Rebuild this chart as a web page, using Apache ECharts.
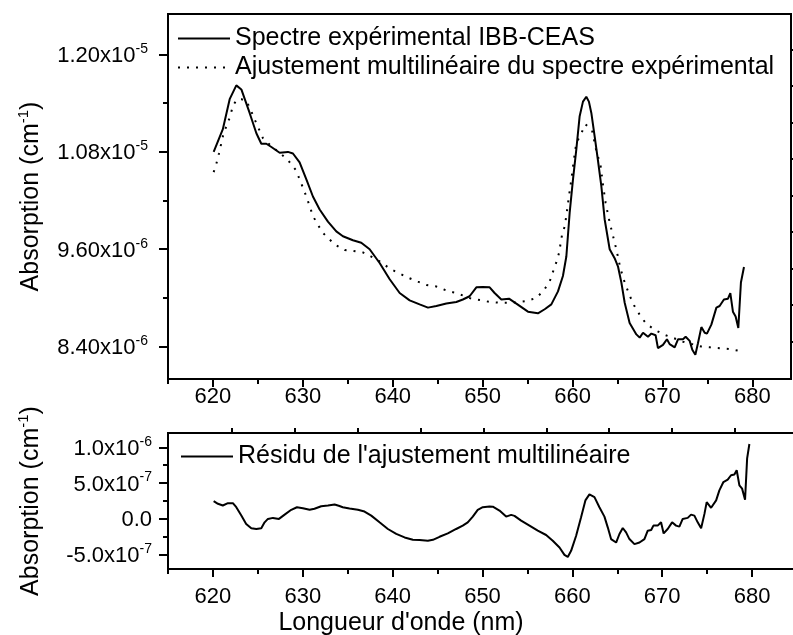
<!DOCTYPE html>
<html>
<head>
<meta charset="utf-8">
<script src="https://cdn.jsdelivr.net/npm/echarts@6/dist/echarts.min.js"></script>
<style>
html, body { margin: 0; padding: 0; background: #fff; }
#chart { width: 793px; height: 635px; }
</style>
</head>
<body>
<div id="chart"></div>
<script>
// Spectre expérimental (nm, absorption en 1e-6 cm-1)
const expWl = [620.08, 621.1, 621.86, 622.6, 623.16, 624.08, 624.83, 625.38, 625.94, 626.5, 627.42, 628.34, 628.9, 629.64,
  630.39, 631.12, 631.87, 632.79, 633.72, 634.46, 635.57, 636.5, 637.43, 638.54, 639.66, 640.77, 641.88, 642.99, 643.92,
  644.85, 645.96, 647.07, 647.8, 648.55, 649.3, 650.0, 650.78, 651.33, 652.08, 652.93, 653.75, 655.04, 656.15, 656.9,
  657.64, 658.38, 658.93, 659.31, 659.68, 660.05, 660.42, 660.79, 661.16, 661.53, 661.82, 662.09, 662.46, 662.82, 663.2,
  663.57, 664.13, 664.68, 665.05, 665.43, 665.8, 666.35, 667.1, 667.47, 667.84, 668.39, 668.77, 669.24, 669.5, 670.06,
  670.5, 670.8, 671.36, 671.73, 672.28, 672.58, 673.03, 673.32, 673.66, 673.95, 674.33, 674.7, 674.95, 675.44, 676.0,
  676.36, 676.84, 677.29, 677.55, 677.84, 678.14, 678.44, 678.73, 679.07];
const expAbs = [10.80, 11.08, 11.45, 11.62, 11.57, 11.28, 11.03, 10.90, 10.90, 10.86, 10.79, 10.80, 10.78, 10.67,
  10.46, 10.25, 10.09, 9.94, 9.82, 9.76, 9.71, 9.68, 9.60, 9.43, 9.23, 9.06, 8.97, 8.92, 8.88,
  8.90, 8.93, 8.95, 8.98, 9.02, 9.13, 9.135, 9.13, 9.06, 8.98, 8.99, 8.93, 8.83, 8.81, 8.86,
  8.92, 9.08, 9.27, 9.51, 10.05, 10.46, 10.83, 11.24, 11.42, 11.48, 11.42, 11.28, 10.99, 10.70, 10.38,
  9.97, 9.60, 9.49, 9.39, 9.19, 8.94, 8.69, 8.55, 8.51, 8.57, 8.52, 8.56, 8.54, 8.38, 8.42,
  8.49, 8.43, 8.39, 8.49, 8.49, 8.52, 8.47, 8.36, 8.30, 8.44, 8.64, 8.57, 8.56, 8.67, 8.88,
  8.90, 8.98, 8.99, 9.06, 8.83, 8.77, 8.63, 9.19, 9.38];

// Ajustement multilinéaire (nm, 1e-6 cm-1)
const fitWl = [620.08, 620.37, 620.67, 621.1, 621.5, 621.86, 622.23, 622.67, 623.16, 623.71, 624.19, 624.64, 625.08,
  625.56, 626.5, 627.4, 628.34, 628.9, 629.27, 629.64, 630.01, 630.39, 630.76, 631.12, 631.68, 632.24, 632.79, 633.54,
  634.65, 635.57, 636.69, 637.6, 638.73, 639.66, 640.77, 641.7, 642.8, 643.74, 644.85, 645.77, 646.7, 647.8, 648.74,
  649.86, 650.78, 651.89, 652.82, 653.75, 654.86, 655.97, 656.78, 657.45, 657.82, 658.2, 658.49, 658.82, 659.12, 659.31,
  659.57, 659.87, 660.12, 660.42, 660.9, 661.42, 662.16, 662.57, 663.13, 663.38, 663.68, 664.13, 664.6, 664.87, 665.31,
  665.8, 666.35, 666.83, 667.47, 668.2, 669.24, 670.35, 671.36, 672.28, 674.33, 675.33, 676.36, 677.37, 678.4];
const fitAbs = [10.55, 10.65, 10.78, 10.99, 11.12, 11.22, 11.37, 11.45, 11.45, 11.43, 11.32, 11.20, 11.09,
  10.97, 10.87, 10.79, 10.70, 10.62, 10.57, 10.46, 10.36, 10.25, 10.13, 10.01, 9.90, 9.80, 9.74, 9.66,
  9.59, 9.58, 9.56, 9.51, 9.44, 9.36, 9.30, 9.25, 9.20, 9.16, 9.14, 9.10, 9.07, 9.03, 8.99,
  8.97, 8.95, 8.94, 8.94, 8.945, 8.96, 9.00, 9.09, 9.20, 9.32, 9.44, 9.55, 9.77, 9.88, 10.01,
  10.23, 10.46, 10.68, 10.91, 11.01, 11.14, 11.07, 10.85, 10.62, 10.40, 10.17, 9.93, 9.72, 9.60, 9.37,
  9.19, 9.03, 8.91, 8.79, 8.68, 8.60, 8.54, 8.50, 8.46, 8.40, 8.39, 8.38, 8.37, 8.35];

// Résidu (nm, 1e-7 cm-1)
const resWl = [620.08, 620.56, 621.1, 621.67, 622.22, 622.6, 623.16, 623.7, 624.27, 624.83, 625.38, 625.75, 626.12,
  626.68, 627.35, 627.98, 628.72, 629.35, 630.01, 630.76, 631.3, 632.05, 632.8, 633.54, 634.0, 634.45, 635.2, 636.13,
  636.87, 637.62, 638.54, 639.47, 640.4, 641.33, 642.25, 643.0, 643.92, 644.48, 645.22, 646.14, 647.07, 647.8, 648.36,
  648.92, 649.47, 650.03, 650.78, 651.15, 651.89, 652.63, 653.19, 653.56, 654.3, 655.23, 656.15, 657.08, 657.82, 658.57,
  659.12, 659.49, 659.86, 660.42, 660.97, 661.45, 661.9, 662.46, 663.01, 663.57, 663.94, 664.31, 664.87, 665.24, 665.61,
  665.98, 666.35, 666.91, 667.47, 668.02, 668.39, 668.77, 669.02, 669.5, 669.87, 670.16, 670.61, 671.1, 671.54, 671.91,
  672.28, 672.84, 673.21, 673.58, 673.95, 674.33, 674.7, 674.95, 675.44, 676.0, 676.36, 676.81, 677.29, 677.66, 678.03,
  678.29, 678.59, 678.89, 679.22, 679.45, 679.7];
const resAbs = [2.48, 2.11, 1.87, 2.2, 2.2, 1.63, 0.46, -0.7, -1.32, -1.41, -1.32, -0.48, 0,
  0.14, 0, 0.6, 1.27, 1.63, 1.5, 1.27, 1.41, 1.77, 1.87, 2.0, 1.83, 1.63, 1.45, 1.27,
  1.03, 0.46, -0.48, -1.41, -2.1, -2.59, -2.92, -2.96, -3.06, -2.92, -2.5, -2.03, -1.41, -0.94, -0.48,
  0.32, 1.27, 1.63, 1.73, 1.70, 1.17, 0.32, 0.56, 0.42, -0.24, -0.94, -1.65, -2.25, -3.06, -4.0,
  -5.03, -5.31, -4.46, -2.35, 0.23, 2.58, 3.42, 3.04, 1.63, 0.32, -1.18, -2.82, -3.3, -2.11, -1.27,
  -1.89, -2.82, -3.52, -3.3, -2.82, -1.65, -1.55, -0.94, -0.94, -0.48, -2.03, -1.41, -0.48, -0.94, -1.08,
  0, 0.14, 0.6, 0.46, -0.48, -1.32, 0.7, 2.34, 1.55, 2.58, 3.99, 5.15, 5.49, 6.1, 6.2,
  6.8, 4.69, 4.23, 2.68, 8.45, 10.46];

// graduations
const xLabelTicks = [620, 630, 640, 650, 660, 670, 680];
const xMinorTicks = [615, 625, 635, 645, 655, 665, 675];
const resTopTicks = [622.1, 629.1, 636.1, 643.1, 650.1, 657.1, 664.1, 671.1, 678.1];
const topYLabels = [8.4, 9.6, 10.8, 12.0];
const topYMinor = [9.0, 10.2, 11.4];
const topYRight = [8.46, 8.91, 9.36, 9.81, 10.26, 10.71, 11.16, 11.61, 12.06];
const resYLabels = [-5, 0, 5, 10];
const resYMinor = [-2.5, 2.5, 7.5];

const FONT = 'Liberation Sans, Arial, sans-serif';
const SPEC = 'Spectre expérimental IBB-CEAS';
const FIT = 'Ajustement multilinéaire du spectre expérimental';
const RES = "Résidu de l'ajustement multilinéaire";

const chart = echarts.init(document.getElementById('chart'));

function pairs(xs, ys) {
  return xs.map((x, i) => [x, ys[i]]);
}

// ex: 1.20x10^-5 en texte riche
function sciLabel(v, scale, digits) {
  const real = v * scale;
  if (Math.abs(real) < 1e-20) return '{b|' + (0).toFixed(digits) + '}';
  const e = Math.floor(Math.log10(Math.abs(real)) + 1e-9);
  const m = real / Math.pow(10, e);
  return '{b|' + m.toFixed(digits) + 'x10}{s|' + e + '}';
}

const labelRich = {
  b: { fontSize: 22, fontFamily: FONT, color: '#000', lineHeight: 25, verticalAlign: 'bottom' },
  s: { fontSize: 14, fontFamily: FONT, color: '#000', lineHeight: 14, verticalAlign: 'top' }
};
const nameRich = {
  a: { fontSize: 25, fontFamily: FONT, color: '#000', lineHeight: 28, verticalAlign: 'bottom' },
  s: { fontSize: 15, fontFamily: FONT, color: '#000', lineHeight: 15, verticalAlign: 'top' }
};
const tickLine = { color: '#000', width: 2 };

function tickOnlyAxis(gridIndex, min, max, position, values, len) {
  return {
    type: 'value', gridIndex: gridIndex, min: min, max: max, position: position,
    axisLine: { show: false, onZero: false },
    splitLine: { show: false },
    axisLabel: { show: false },
    axisTick: { show: true, length: len, customValues: values, lineStyle: tickLine }
  };
}

const legendText = { fontSize: 25, fontFamily: FONT, color: '#000', lineHeight: 25 };

const option = {
  animation: false,
  backgroundColor: '#fff',
  grid: [
    { left: 168, top: 14, width: 623, height: 365, show: true, borderColor: '#000', borderWidth: 2, outerBoundsMode: 'none' },
    { left: 168, top: 433, width: 629, height: 136, show: true, borderColor: '#000', borderWidth: 2, outerBoundsMode: 'none' }
  ],
  legend: [
    {
      orient: 'vertical', left: 177, top: 26, padding: 0, itemWidth: 52, itemHeight: 14, itemGap: 4,
      data: [SPEC, FIT], textStyle: legendText, selectedMode: false,
      itemStyle: { opacity: 0 }
    },
    {
      orient: 'vertical', left: 180, top: 444, padding: 0, itemWidth: 52, itemHeight: 14,
      data: [RES], textStyle: legendText, selectedMode: false,
      itemStyle: { opacity: 0 }
    }
  ],
  xAxis: [
    {
      type: 'value', gridIndex: 0, min: 615, max: 684.3, position: 'bottom',
      axisLine: { show: false, onZero: false }, splitLine: { show: false },
      axisTick: { length: 8, customValues: xLabelTicks, lineStyle: tickLine },
      axisLabel: { customValues: xLabelTicks, margin: 7, fontSize: 22, fontFamily: FONT, color: '#000' }
    },
    tickOnlyAxis(0, 615, 684.3, 'bottom', xMinorTicks, 5),
    {
      type: 'value', gridIndex: 1, min: 615, max: 685, position: 'bottom',
      axisLine: { show: false, onZero: false }, splitLine: { show: false },
      axisTick: { length: 8, customValues: xLabelTicks, lineStyle: tickLine },
      axisLabel: { customValues: xLabelTicks, margin: 17, fontSize: 22, fontFamily: FONT, color: '#000' }
    },
    tickOnlyAxis(1, 615, 685, 'bottom', xMinorTicks, 5),
    tickOnlyAxis(1, 615, 685, 'top', resTopTicks, 5)
  ],
  yAxis: [
    {
      type: 'value', gridIndex: 0, min: 8.0, max: 12.5, position: 'left',
      axisLine: { show: false, onZero: false }, splitLine: { show: false },
      axisTick: { length: 9, customValues: topYLabels, lineStyle: tickLine },
      axisLabel: {
        customValues: topYLabels, margin: 20, color: '#000',
        formatter: v => sciLabel(v, 1e-6, 2), rich: labelRich
      },
      name: '{a|Absorption (cm}{s|-1}{a|)}', nameLocation: 'middle', nameGap: 124,
      nameTextStyle: { rich: nameRich, color: '#000' }
    },
    tickOnlyAxis(0, 8.0, 12.5, 'left', topYMinor, 5),
    tickOnlyAxis(0, 8.0, 12.5, 'right', topYRight, 5),
    {
      type: 'value', gridIndex: 1, min: -7, max: 12, position: 'left',
      axisLine: { show: false, onZero: false }, splitLine: { show: false },
      axisTick: { length: 9, customValues: resYLabels, lineStyle: tickLine },
      axisLabel: {
        customValues: resYLabels, margin: 16, color: '#000',
        formatter: v => sciLabel(v, 1e-7, 1), rich: labelRich
      },
      name: '{a|Absorption (cm}{s|-1}{a|)}', nameLocation: 'middle', nameGap: 124,
      nameTextStyle: { rich: nameRich, color: '#000' }
    },
    tickOnlyAxis(1, -7, 12, 'left', resYMinor, 5)
  ],
  graphic: [
    {
      type: 'text', x: 401, y: 623,
      style: { text: "Longueur d'onde (nm)", font: '25px ' + FONT, fill: '#000', align: 'center', verticalAlign: 'middle' }
    }
  ],
  series: [
    {
      name: SPEC, type: 'line', xAxisIndex: 0, yAxisIndex: 0, data: pairs(expWl, expAbs),
      symbol: 'none', lineStyle: { color: '#000', width: 2 }, itemStyle: { color: '#000' }, z: 3
    },
    {
      name: FIT, type: 'line', xAxisIndex: 0, yAxisIndex: 0, data: pairs(fitWl, fitAbs),
      symbol: 'none', lineStyle: { color: '#000', width: 2, type: [2, 7] }, itemStyle: { color: '#000' }, z: 2
    },
    {
      name: RES, type: 'line', xAxisIndex: 2, yAxisIndex: 3, data: pairs(resWl, resAbs),
      symbol: 'none', lineStyle: { color: '#000', width: 2 }, itemStyle: { color: '#000' }
    }
  ]
};

chart.setOption(option);
</script>
</body>
</html>
